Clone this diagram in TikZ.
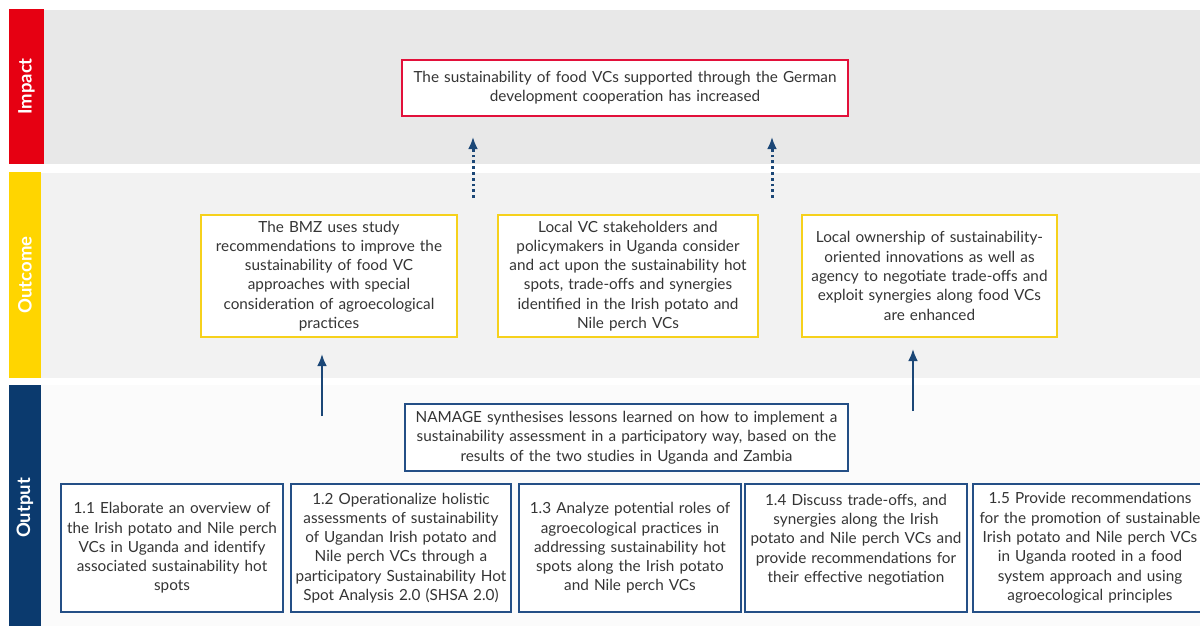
\documentclass[tikz,border=0pt]{standalone}
\usepackage{fontspec}
\setmainfont{Lato}
\usetikzlibrary{arrows.meta}
\definecolor{impred}{HTML}{E60012}
\definecolor{impbox}{HTML}{E2103A}
\definecolor{outyel}{HTML}{FFD500}
\definecolor{outbox}{HTML}{F6D11C}
\definecolor{navy}{HTML}{0B3A6E}
\definecolor{boxblue}{HTML}{244F86}
\definecolor{arrblue}{HTML}{1B4777}
\definecolor{txt}{HTML}{353535}
\definecolor{bandA}{HTML}{E8E8E8}
\definecolor{bandB}{HTML}{F2F2F2}
\definecolor{bandC}{HTML}{FBFBFB}
\begin{document}
\begin{tikzpicture}[x=1pt,y=-1pt,
  barlabel/.style={rotate=90, text=white, font=\bfseries\fontsize{18.5}{22}\selectfont},
  txtbox/.style={draw, line width=2pt, fill=white, align=center, inner sep=0pt, text=txt,
    font=\fontsize{15.3}{19.3}\selectfont},
  impactbox/.style={txtbox, draw=impbox},
  outcomebox/.style={txtbox, draw=outbox},
  outputbox/.style={txtbox, draw=boxblue},
  plaintext/.style={align=center, inner sep=0pt, text=txt, font=\fontsize{15.3}{19.3}\selectfont},
  solidarrow/.style={draw=arrblue, line width=2.4pt, -{Latex[length=12pt,width=10pt]}},
  dotarrow/.style={draw=arrblue, line width=3pt, dash pattern=on 2.8pt off 3pt, -{Latex[length=12pt,width=10pt]}}
]
\useasboundingbox (0,0) rectangle (1200,626);
\fill[white] (0,0) rectangle (1200,626);
\clip (0,0) rectangle (1200,626);
% bands
\fill[bandA] (44,10) rectangle (1200,164);
\fill[bandB] (41,173) rectangle (1200,378);
\fill[bandC] (41,385) rectangle (1200,626);
% bars
\fill[impred] (9,9) rectangle (44,164);
\fill[outyel] (9,172) rectangle (41,378);
\fill[navy] (9,385) rectangle (41,626);
\node[barlabel] (limpact) at (26.5,86.5) {Impact};
\node[barlabel] (loutcome) at (25,275) {Outcome};
\node[barlabel] (loutput) at (25,508) {Output};
% impact
\node[impactbox, minimum width=446pt, minimum height=56pt, text width=440pt] (impact) at (625,88)
  {The sustainability of food VCs supported through the German\\development cooperation has increased};
% outcomes
\node[outcomebox, minimum width=256pt, minimum height=122pt, text width=250pt] (oc1) at (329,276)
  {The BMZ uses study\\recommendations to improve the\\sustainability of food VC\\approaches with special\\consideration of agroecological\\practices};
\node[outcomebox, minimum width=260pt, minimum height=122pt, text width=254pt] (oc2) at (628,276)
  {Local VC stakeholders and\\policymakers in Uganda consider\\and act upon the sustainability hot\\spots, trade-offs and synergies\\identified in the Irish potato and\\Nile perch VCs};
\node[outcomebox, minimum width=255pt, minimum height=122pt, text width=249pt] (oc3) at (929.5,276)
  {Local ownership of sustainability-\\oriented innovations as well as\\agency to negotiate trade-offs and\\exploit synergies along food VCs\\are enhanced};
% namage
\node[outputbox, minimum width=443pt, minimum height=67pt, text width=437pt] (namage) at (626.5,437.5)
  {NAMAGE synthesises lessons learned on how to implement a\\sustainability assessment in a participatory way, based on the\\results of the two studies in Uganda and Zambia};
% outputs
\node[outputbox, minimum width=222pt, minimum height=128pt, text width=218pt] (o1) at (172,548)
  {1.1 Elaborate an overview of\\the Irish potato and Nile perch\\VCs in Uganda and identify\\associated sustainability hot\\spots};
\node[outputbox, minimum width=220pt, minimum height=128pt, text width=216pt] (o2) at (401,548)
  {1.2 Operationalize holistic\\assessments of sustainability\\of Ugandan Irish potato and\\Nile perch VCs through a\\participatory Sustainability Hot\\Spot Analysis 2.0 (SHSA 2.0)};
\node[outputbox, minimum width=222pt, minimum height=128pt, text width=218pt] (o3) at (630,548)
  {1.3 Analyze potential roles of\\agroecological practices in\\addressing sustainability hot\\spots along the Irish potato\\and Nile perch VCs};
\node[outputbox, minimum width=222pt, minimum height=128pt, text width=218pt] (o4) at (856,548)
  {1.4 Discuss trade-offs, and\\synergies along the Irish\\potato and Nile perch VCs and\\provide recommendations for\\their effective negotiation\\\mbox{}};
\draw[boxblue, line width=2pt, fill=white] (973,484) rectangle (1220,612);
\node[plaintext, text width=236pt] (o5) at (1090,548)
  {1.5 Provide recommendations\\for the promotion of sustainable\\Irish potato and Nile perch VCs\\in Uganda rooted in a food\\system approach and using\\agroecological principles};
% arrows
\coordinate (d1s) at (473,198);
\coordinate (d1e) at (473,137);
\coordinate (d2s) at (772,198);
\coordinate (d2e) at (772,137);
\draw[dotarrow] (d1s) -- (d1e);
\draw[dotarrow] (d2s) -- (d2e);
\coordinate (a1s) at (322,416);
\coordinate (a1e) at (322,354);
\coordinate (a2s) at (913,411);
\coordinate (a2e) at (913,349);
\draw[solidarrow] (a1s) -- (a1e);
\draw[solidarrow] (a2s) -- (a2e);
\end{tikzpicture}
\end{document}
